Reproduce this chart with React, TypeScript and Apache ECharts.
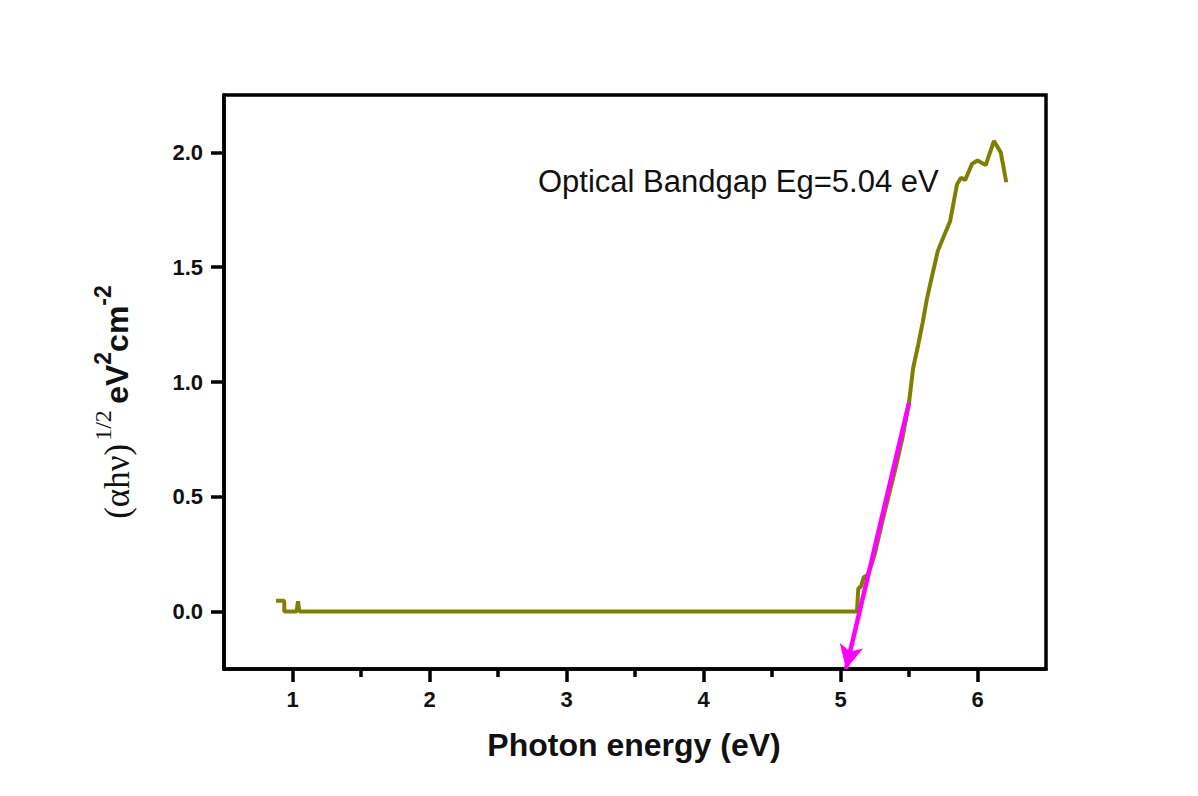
import React, { useEffect, useRef } from "react";
import * as echarts from "echarts";

// Photon energy (eV) and (αhν)^1/2 of the absorption edge
const energy: number[] = [
  0.88, 0.94, 0.94, 1.03, 1.04, 1.05, 5.12, 5.13, 5.15, 5.17, 5.2, 5.25, 5.3,
  5.35, 5.4, 5.45, 5.5, 5.53, 5.57, 5.6, 5.63, 5.66, 5.71, 5.73, 5.8, 5.85,
  5.88, 5.91, 5.96, 6.0, 6.06, 6.12, 6.17, 6.21,
];
const tauc: number[] = [
  0.047, 0.047, 0.0, 0.0, 0.045, 0.0, 0.0, 0.1, 0.11, 0.15, 0.16, 0.25, 0.38,
  0.5, 0.62, 0.75, 0.91, 1.06, 1.17, 1.26, 1.36, 1.44, 1.57, 1.6, 1.7, 1.86,
  1.89, 1.88, 1.95, 1.965, 1.945, 2.05, 2.0, 1.87,
];

// Linear extrapolation of the edge down to the energy axis
const fitStart: [number, number] = [5.5, 0.91];
const bandgap = 5.04;

// Axis ticks
const xMajorTicks: number[] = [1, 2, 3, 4, 5, 6];
const xMinorTicks: number[] = [1.5, 2.5, 3.5, 4.5, 5.5];
const yTicks: number[] = [0, 0.5, 1.0, 1.5, 2.0];

const annotation = `Optical Bandgap Eg=${bandgap.toFixed(2)} eV`;

export default function App() {
  const ref = useRef<HTMLDivElement>(null);

  useEffect(() => {
    if (!ref.current) return;
    const chart = echarts.init(ref.current, null, { renderer: "svg" });
    const yMin = -0.25;
    const sans = "'Liberation Sans', Arial, sans-serif";
    const serif = "'Liberation Serif', 'Times New Roman', serif";
    chart.setOption({
      animation: false,
      backgroundColor: "#ffffff",
      grid: {
        left: 224,
        top: 95,
        right: 152,
        bottom: 127,
        show: true,
        borderColor: "#000",
        borderWidth: 3.5,
        backgroundColor: "transparent",
      },
      xAxis: [
        {
          type: "value",
          min: 0.5,
          max: 6.5,
          position: "bottom",
          axisLine: {
            show: true,
            onZero: false,
            lineStyle: { color: "#000", width: 3.5 },
          },
          axisTick: {
            show: true,
            customValues: xMajorTicks,
            length: 13,
            inside: false,
            lineStyle: { color: "#000", width: 3.5 },
          },
          axisLabel: {
            customValues: xMajorTicks,
            margin: 19,
            color: "#111",
            fontFamily: sans,
            fontWeight: "bold",
            fontSize: 22,
            formatter: (v: number) => String(v),
          },
          splitLine: { show: false },
        },
        {
          type: "value",
          min: 0.5,
          max: 6.5,
          position: "bottom",
          axisLine: { show: false, onZero: false },
          axisTick: {
            show: true,
            customValues: xMinorTicks,
            length: 8,
            inside: false,
            lineStyle: { color: "#000", width: 3.5 },
          },
          axisLabel: { show: false },
          splitLine: { show: false },
        },
      ],
      yAxis: {
        type: "value",
        min: yMin,
        max: 2.25,
        axisLine: {
          show: true,
          onZero: false,
          lineStyle: { color: "#000", width: 3.5 },
        },
        axisTick: {
          show: true,
          customValues: yTicks,
          length: 13,
          inside: false,
          lineStyle: { color: "#000", width: 3.5 },
        },
        axisLabel: {
          customValues: yTicks,
          margin: 21,
          color: "#111",
          fontFamily: sans,
          fontWeight: "bold",
          fontSize: 22,
          formatter: (v: number) => v.toFixed(1),
        },
        splitLine: { show: false },
      },
      series: [
        {
          type: "line",
          xAxisIndex: 0,
          data: energy.map((e, i) => [e, tauc[i]]),
          showSymbol: false,
          lineStyle: { color: "#808000", width: 4 },
          itemStyle: { color: "#808000" },
          markLine: {
            silent: true,
            symbol: ["none", "arrow"],
            symbolSize: [18, 24],
            label: { show: false },
            lineStyle: { color: "#ff00ff", width: 4.5, type: "solid" },
            data: [[{ coord: fitStart }, { coord: [bandgap, yMin] }]],
          },
        },
      ],
      graphic: [
        {
          type: "text",
          x: 538,
          y: 181,
          style: {
            text: annotation,
            fill: "#111",
            font: `31px ${sans}`,
            align: "left",
            verticalAlign: "middle",
          },
        },
        {
          type: "text",
          x: 634,
          y: 745,
          style: {
            text: "Photon energy (eV)",
            fill: "#111",
            font: `bold 32px ${sans}`,
            align: "center",
            verticalAlign: "middle",
          },
        },
        {
          type: "text",
          x: 117,
          y: 402,
          rotation: Math.PI / 2,
          style: {
            text: "{s|(αhν)}{ss|1/2} {b|eV}{bs|2}{b|cm}{bs|-2}",
            fill: "#111",
            align: "center",
            verticalAlign: "middle",
            rich: {
              s: {
                fontFamily: serif,
                fontSize: 35,
                fill: "#111",
                lineHeight: 40,
              },
              ss: {
                fontFamily: serif,
                fontSize: 24,
                fill: "#111",
                lineHeight: 26,
                padding: [0, 3, 28, 3],
              },
              b: {
                fontFamily: sans,
                fontWeight: "bold",
                fontSize: 32,
                fill: "#111",
                lineHeight: 40,
              },
              bs: {
                fontFamily: sans,
                fontWeight: "bold",
                fontSize: 23,
                fill: "#111",
                lineHeight: 26,
                padding: [0, 0, 28, 0],
              },
            },
          },
        },
      ],
    });
    return () => chart.dispose();
  }, []);

  return (
    <div
      ref={ref}
      style={{ position: "fixed", left: 0, top: 0, width: 1198, height: 796 }}
    />
  );
}
